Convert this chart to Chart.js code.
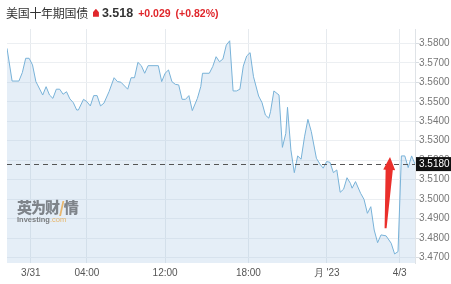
<!DOCTYPE html>
<html>
<head>
<meta charset="utf-8">
<script src="https://cdn.jsdelivr.net/npm/chart.js@4/dist/chart.umd.min.js"></script>
<style>
  html, body { margin: 0; padding: 0; background: #fff; }
  #wrap { position: relative; width: 451px; height: 284px; overflow: hidden; }
  #chart { position: absolute; left: 0; top: 0; }
  #head { position: absolute; left: 6px; top: 3px; white-space: nowrap; font-family: "Liberation Sans", Arial, sans-serif; }
  #head .name { font-family: "Noto Sans CJK SC", sans-serif; font-size: 12px; color: #333; letter-spacing: -0.3px; vertical-align: middle; }
  #head .up { display: inline-block; width: 6px; height: 8px; background: #e0262b; margin: 0 3px 0 5px; vertical-align: middle;
              clip-path: polygon(50% 0, 100% 45%, 100% 100%, 0 100%, 0 45%); }
  #head .last { font-size: 12.5px; font-weight: bold; color: #333; vertical-align: middle; }
  #head .chg { font-size: 10.5px; font-weight: bold; color: #e0262b; margin-left: 5px; vertical-align: middle; }
  #mark { position: absolute; left: 17px; top: 199px; opacity: 0.75; }
  #mark .cn { font-family: "Noto Sans CJK SC", sans-serif; font-weight: 900; font-size: 15px; color: #5c6066; letter-spacing: -1px; line-height: 16px; }
  #mark .cn b { color: #e8a33d; }
  #mark .en { font-family: "Liberation Sans", Arial, sans-serif; font-size: 7.5px; font-weight: bold; color: #555; line-height: 9px; }
  #mark .en span { color: #e8a33d; font-weight: normal; }
</style>
</head>
<body>
<div id="wrap">
  <canvas id="chart" width="451" height="284"></canvas>
  <div id="head">
    <span class="name">美国十年期国债</span><span class="up"></span><span class="last">3.518</span><span class="chg">+0.029</span><span class="chg">(+0.82%)</span>
  </div>
  <div id="mark">
    <div class="cn">英为财<b>/</b>情</div>
    <div class="en">Investing<span>.com</span></div>
  </div>
</div>
<script>
// sample index along the session (one step = one bar)
const times = [
  0, 3, 7, 9, 11, 13, 15, 17, 18, 21, 23, 25, 27, 29, 31, 33, 35, 37, 39, 41,
  42, 45, 47, 49, 51, 53, 55, 57, 60, 63, 65, 67, 71, 73, 75, 77, 79, 81, 83, 89,
  91, 93, 95, 97, 99, 101, 103, 105, 107, 109, 112, 114, 115, 119, 121, 123, 125, 127, 129, 131,
  133, 135, 137, 139, 141, 143, 145, 148, 150, 152, 154, 155, 157, 160, 162, 164, 165, 167, 169, 171,
  173, 175, 177, 179, 182, 184, 186, 188, 190, 192, 194, 196, 198, 200, 202, 203, 205, 208, 210, 212,
  214, 216, 218, 220, 223, 226, 228, 230, 232, 234, 236, 238, 240
];
const values = [
  3.5775, 3.5607, 3.5607, 3.5650, 3.5724, 3.5724, 3.5690, 3.5604, 3.5587, 3.5535, 3.5578, 3.5535, 3.5518, 3.5565, 3.5565, 3.5539, 3.5552, 3.5515, 3.5496, 3.5458,
  3.5458, 3.5513, 3.5501, 3.5479, 3.5532, 3.5532, 3.5479, 3.5493, 3.5552, 3.5624, 3.5604, 3.5601, 3.5565, 3.5624, 3.5624, 3.5703, 3.5686, 3.5647, 3.5686, 3.5686,
  3.5604, 3.5647, 3.5664, 3.5604, 3.5590, 3.5587, 3.5513, 3.5513, 3.5532, 3.5455, 3.5518, 3.5579, 3.5647, 3.5647, 3.5681, 3.5732, 3.5706, 3.5720, 3.5792, 3.5814,
  3.5556, 3.5556, 3.5565, 3.5684, 3.5736, 3.5753, 3.5629, 3.5530, 3.5496, 3.5432, 3.5416, 3.5449, 3.5556, 3.5535, 3.5266, 3.5338, 3.5472, 3.5253, 3.5136, 3.5222,
  3.5205, 3.5320, 3.5410, 3.5347, 3.5210, 3.5181, 3.5159, 3.5193, 3.5189, 3.5136, 3.5150, 3.5035, 3.5051, 3.5110, 3.5081, 3.5056, 3.5090, 3.5030, 3.4999, 3.4927,
  3.4961, 3.4841, 3.4776, 3.4816, 3.4811, 3.4773, 3.4718, 3.4730, 3.5222, 3.5222, 3.5162, 3.5222, 3.5180
];
const tickPos = [14, 47, 93, 142, 188, 231];
const tickLabels = ['3/31', '04:00', '12:00', '18:00', "月 '23", '4/3'];
const yTicks = [3.47, 3.48, 3.49, 3.50, 3.51, 3.52, 3.53, 3.54, 3.55, 3.56, 3.57, 3.58];
const lastPrice = 3.518;
// annotation arrow, in data units
const arrowTip = { x: 225.3, y: 3.5217 };
const arrowTail = { x: 222.7, y: 3.4850 };

const points = times.map((t, i) => ({ x: t, y: values[i] }));

const priceLine = {
  id: 'priceLine',
  afterDatasetsDraw(chart) {
    const { ctx, chartArea, scales } = chart;
    const y = Math.round(scales.y.getPixelForValue(lastPrice)) + 0.5;
    ctx.save();
    ctx.strokeStyle = '#555';
    ctx.lineWidth = 1;
    ctx.setLineDash([5, 4]);
    ctx.beginPath();
    ctx.moveTo(chartArea.left, y);
    ctx.lineTo(chartArea.right, y);
    ctx.stroke();
    ctx.setLineDash([]);

    // red arrow
    const tx = scales.x.getPixelForValue(arrowTip.x), ty = scales.y.getPixelForValue(arrowTip.y);
    const bx = scales.x.getPixelForValue(arrowTail.x), by = scales.y.getPixelForValue(arrowTail.y);
    const len = Math.hypot(tx - bx, ty - by);
    const dx = (tx - bx) / len, dy = (ty - by) / len;
    const nx = -dy, ny = dx;
    const hb = { x: tx - dx * 13, y: ty - dy * 13 };
    ctx.fillStyle = '#ea2f2b';
    ctx.beginPath();
    ctx.moveTo(tx, ty);
    ctx.lineTo(hb.x + nx * 6, hb.y + ny * 6);
    ctx.lineTo(hb.x + nx * 3.6, hb.y + ny * 3.6);
    ctx.lineTo(bx + nx * 1, by + ny * 1);
    ctx.lineTo(bx - nx * 1, by - ny * 1);
    ctx.lineTo(hb.x - nx * 3.6, hb.y - ny * 3.6);
    ctx.lineTo(hb.x - nx * 6, hb.y - ny * 6);
    ctx.closePath();
    ctx.fill();
    ctx.restore();
  },
  afterDraw(chart) {
    const { ctx, chartArea, scales } = chart;
    const y = scales.y.getPixelForValue(lastPrice);
    ctx.save();
    ctx.fillStyle = '#111';
    ctx.fillRect(chartArea.right + 1, y - 7, chart.width - chartArea.right - 1, 14);
    ctx.fillStyle = '#fff';
    ctx.font = '10px "Liberation Sans", Arial, sans-serif';
    ctx.textBaseline = 'middle';
    ctx.fillText(lastPrice.toFixed(4), chartArea.right + 4, y + 0.5);
    ctx.restore();
  }
};

new Chart(document.getElementById('chart').getContext('2d'), {
  type: 'line',
  data: {
    datasets: [{
      data: points,
      borderColor: '#78b2d8',
      borderWidth: 1,
      backgroundColor: 'rgba(160, 195, 225, 0.28)',
      fill: 'start',
      pointRadius: 0,
      tension: 0
    }]
  },
  options: {
    responsive: false,
    animation: false,
    layout: { padding: { top: 29, left: 7, right: 0, bottom: 0 } },
    plugins: { legend: { display: false }, tooltip: { enabled: false } },
    scales: {
      x: {
        type: 'linear',
        min: 0,
        max: 240,
        afterBuildTicks: s => { s.ticks = tickPos.map(v => ({ value: v })); },
        afterFit: s => { s.height = 21; },
        grid: { color: '#e6eaee', drawTicks: false },
        border: { display: false },
        ticks: {
          padding: 4,
          color: '#555',
          font: { family: '"Liberation Sans", Arial, sans-serif', size: 10 },
          maxRotation: 0,
          autoSkip: false,
          callback: v => tickLabels[tickPos.indexOf(v)]
        }
      },
      y: {
        position: 'right',
        min: 3.46715,
        max: 3.58745,
        afterBuildTicks: s => { s.ticks = yTicks.map(v => ({ value: v })); },
        afterFit: s => { s.width = 36; },
        grid: { color: '#eceff2', tickColor: '#d8dde2', tickLength: 4 },
        border: { display: true, color: '#dfe3e7' },
        ticks: {
          padding: 0,
          color: '#777',
          font: { family: '"Liberation Sans", Arial, sans-serif', size: 10 },
          callback: v => v.toFixed(4)
        }
      }
    }
  },
  plugins: [priceLine]
});
</script>
</body>
</html>
